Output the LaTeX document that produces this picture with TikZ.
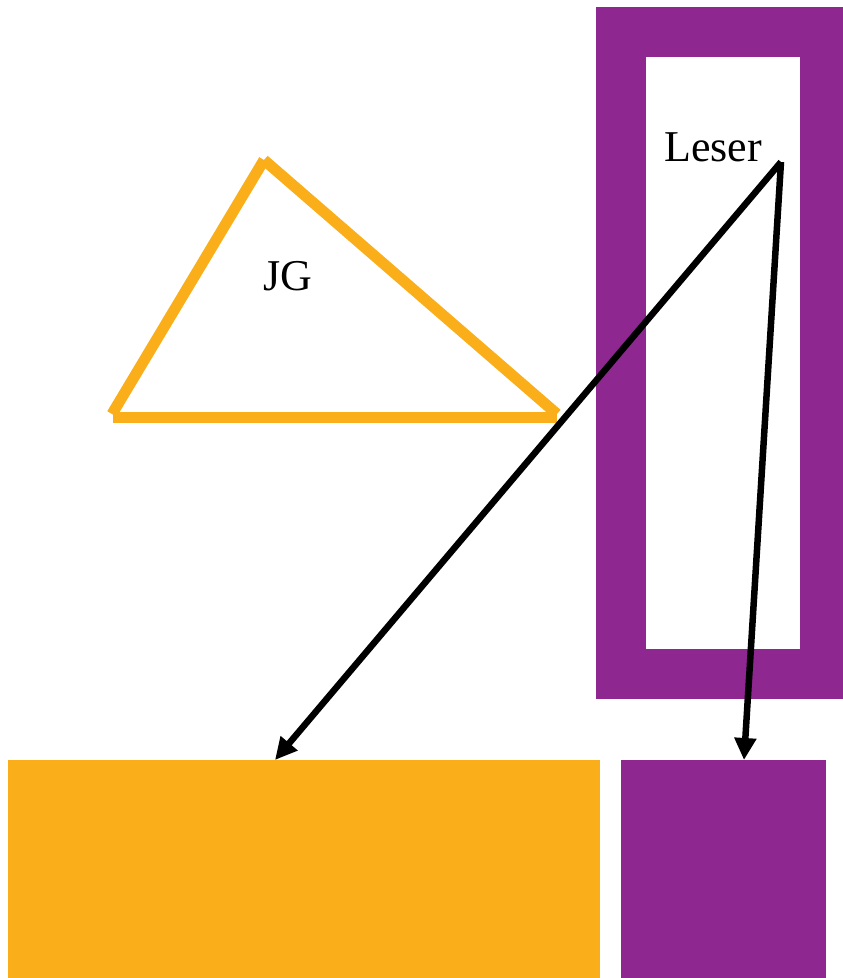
\documentclass[tikz,border=0pt]{standalone}
\usepackage{fontspec}
\setmainfont{Liberation Serif}
\usepackage{tikz}
\usetikzlibrary{positioning,arrows.meta,calc}
\definecolor{jgorange}{HTML}{F9AE1A}
\definecolor{lpurple}{HTML}{8E278F}
\tikzset{
  block/.style ={rectangle, inner sep=0pt, outer sep=0pt},
  frame/.style ={block, draw=lpurple, line width=50pt, fill=white},
  edge/.style  ={draw=jgorange, line width=11pt, line cap=butt},
  label/.style ={font=\fontsize{44}{50}\selectfont, text=black, inner sep=0pt},
  pointer/.style={-{Triangle[length=22pt,width=21pt]}, line width=6.5pt, draw=black},
}

\begin{document}
\begin{tikzpicture}[x=1pt, y=-1pt]
  \useasboundingbox (0,0) rectangle (843,978);
  % reader frame
  \node[frame, minimum width=204pt, minimum height=642pt] (reader) at (723,353) {};
  \node[label] (leser) at (713,147) {Leser};
  \coordinate (src) at (781,162);
  % triangle JG
  \coordinate (tl) at (112,414);
  \coordinate (tt) at (264,160);
  \coordinate (tr) at (557,414);
  \draw[edge] (tl) -- (tt);
  \draw[edge] (tt) -- (tr);
  \draw[edge] ($(tl)+(1,3)$) -- ($(tr)+(0,3)$);
  \node[label] (jg) at (288,276) {JG};
  % bottom blocks
  \node[block, fill=jgorange, minimum width=592pt, minimum height=218pt] (jgblock) at (304,869) {};
  \node[block, fill=lpurple, minimum width=205pt, minimum height=218pt] (lblock) at (723.5,869) {};
  % arrows
  \draw[pointer] (src) -- (jgblock.north -| 275,0);
  \draw[pointer] (src) -- (lblock.north -| 744,0);
\end{tikzpicture}
\end{document}
